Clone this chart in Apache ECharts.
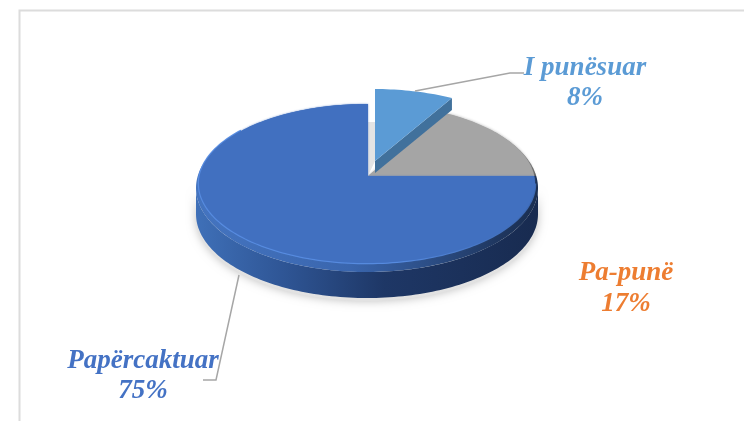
<!DOCTYPE html>
<html><head><meta charset="utf-8">
<style>html,body{margin:0;padding:0;background:#fff}#c{width:744px;height:421px}</style>
<script src="https://cdn.jsdelivr.net/npm/echarts@6/dist/echarts.min.js"></script>
</head><body><div id="c"></div>
<script>
const categories = ['I punësuar', 'Pa-punë', 'Papërcaktuar'];
const percentValues = [8, 17, 75];
const sliceColors = ['#5B9BD5', '#A5A5A5', '#4170C0'];
const labelColors = ['#5B9BD5', '#ED7D31', '#4472C4'];

const apex = [368, 176];
const rim = {cx: 367, cy: 188, rx: 171, ry: 84};
const face = {cx: 367, cy: 183.5, rx: 168, ry: 79.5};
const depth = 26;
const explode = [7, -15];
const labelPos = [[585, 68, 98], [626, 273, 304], [143, 361, 391]];
const leaders = [
  [[415, 91], [510, 73], [524, 73]],
  null,
  [[239, 275], [216, 380], [203, 380]]
];

function rimPoint(theta, e, o) {
  const dx = e.rx * Math.sin(theta), dy = -e.ry * 0.95 * Math.cos(theta);
  const ax = o[0] - e.cx, ay = o[1] - e.cy;
  const A = dx * dx / (e.rx * e.rx) + dy * dy / (e.ry * e.ry);
  const B = 2 * (ax * dx / (e.rx * e.rx) + ay * dy / (e.ry * e.ry));
  const C = ax * ax / (e.rx * e.rx) + ay * ay / (e.ry * e.ry) - 1;
  const t = (-B + Math.sqrt(B * B - 4 * A * C)) / (2 * A);
  return [o[0] + t * dx, o[1] + t * dy];
}
function arc(a0, a1, e, o) {
  const pts = [], n = Math.max(8, Math.ceil((a1 - a0) * 40));
  for (let i = 0; i <= n; i++) pts.push(rimPoint(a0 + (a1 - a0) * i / n, e, o));
  return pts;
}
function angleRange(idx) {
  const total = percentValues.reduce((a, b) => a + b, 0);
  let s = 0;
  for (let i = 0; i < idx; i++) s += percentValues[i];
  return [s / total * Math.PI * 2, (s + percentValues[idx]) / total * Math.PI * 2];
}
const poly = (points, style) => ({type: 'polygon', silent: true, shape: {points}, style});
const hGrad = stops => ({type: 'linear', x: 0, y: 0, x2: 1, y2: 0,
  colorStops: stops.map(c => ({offset: c[0], color: c[1]}))});

function renderSlice(params, api) {
  const i = api.value(0);
  const value = api.value(1);
  const [a0, a1] = angleRange(i);
  const kids = [];
  if (i === 2) {
    const top = rimPoint(0, face, apex);
    // gap left behind the exploded slice
    kids.push(poly([apex, [apex[0], top[1] + 18], [apex[0] + explode[0], top[1] + 18],
      [apex[0] + explode[0], apex[1] + explode[1]]], {fill: '#E4E4E4'}));
    // soft ground shadow
    const side = arc(Math.PI / 2, Math.PI * 1.5, rim, [rim.cx, rim.cy]);
    kids.push(poly(side.map(p => [p[0], p[1] + depth + 3]).concat(side.slice().reverse()),
      {fill: '#E2E2E2', shadowBlur: 10, shadowColor: 'rgba(0,0,0,0.25)'}));
    // side wall
    const sidePts = side.concat(side.slice().reverse().map(p => [p[0], p[1] + depth]));
    kids.push(poly(sidePts, {fill: hGrad([[0, '#3F70B8'], [0.25, '#2F5696'], [0.55, '#1E3766'], [1, '#182B50']])}));
    // bevel band
    kids.push(poly([apex].concat(arc(a0, a1, rim, apex)),
      {fill: hGrad([[0, '#4474C0'], [0.45, '#3A66AE'], [0.68, '#2C4E86'], [0.88, '#1F3760'], [1, '#1A2E50']])}));
    // highlight along the lower edge of the flat face
    kids.push({type: 'polyline', silent: true, shape: {points: arc(a0 + 0.1, a1 - 0.9, face, apex).concat([])},
      style: {fill: 'none', lineWidth: 2.5, stroke: hGrad([[0, '#5A90E6'], [0.6, '#5A90E6'], [1, '#3A66AE']])}});
    // flat face
    kids.push(poly([apex].concat(arc(a0, a1, face, apex)),
      {fill: sliceColors[i], shadowBlur: 2, shadowColor: 'rgba(66,112,192,0.8)'}));
  }
  if (i === 1) {
    kids.push(poly([apex].concat(arc(a0, a1, rim, apex)),
      {fill: hGrad([[0, '#A5A5A5'], [0.7, '#9A9A9A'], [1, '#555555']])}));
    kids.push(poly([apex].concat(arc(a0, a1, face, apex)),
      {fill: sliceColors[i], shadowBlur: 3, shadowColor: 'rgba(165,165,165,0.9)'}));
  }
  if (i === 0) {
    const o = [apex[0] + explode[0], apex[1] + explode[1]];
    const e = {cx: face.cx + explode[0], cy: face.cy + explode[1], rx: face.rx, ry: face.ry};
    const edge = rimPoint(a1, e, o);
    const wall = 12;
    kids.push(poly([o, edge, [edge[0], edge[1] + wall], [o[0], o[1] + wall]], {fill: '#41719C'}));
    kids.push(poly([o].concat(arc(a0, a1, e, o)), {fill: sliceColors[i]}));
  }
  const [tx, ty1, ty2] = labelPos[i];
  const font = 'italic bold 27px "Liberation Serif"';
  const txt = (text, y) => ({type: 'text', silent: true, style: {
    x: tx, y, text, font, fill: labelColors[i], align: 'center', verticalAlign: 'middle'}});
  kids.push(txt(categories[i], ty1));
  kids.push(txt(value + '%', ty2));
  if (leaders[i]) kids.push({type: 'polyline', silent: true, shape: {points: leaders[i]},
    style: {stroke: '#A6A6A6', lineWidth: 1.5, fill: 'none'}});
  return {type: 'group', children: kids};
}

const chart = echarts.init(document.getElementById('c'), null, {renderer: 'canvas'});
chart.setOption({
  animation: false,
  backgroundColor: '#fff',
  graphic: [
    {type: 'polyline', shape: {points: [[19.5, 421], [19.5, 10.5], [744, 10.5]]},
     style: {stroke: '#DCDCDC', lineWidth: 2, fill: 'none'}}
  ],
  series: [{
    type: 'custom',
    coordinateSystem: 'none',
    renderItem: renderSlice,
    clip: false,
    // back-most slices are painted first
    data: [1, 2, 0].map(i => ({name: categories[i], value: [i, percentValues[i]]}))
  }]
});
</script></body></html>
